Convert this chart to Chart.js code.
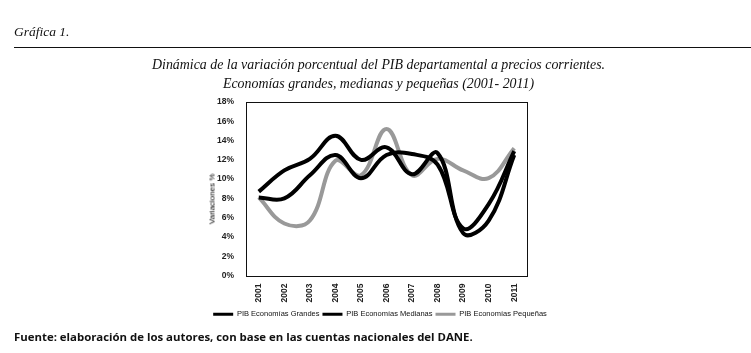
<!DOCTYPE html>
<html lang="es">
<head>
  <meta charset="UTF-8">
  <title>Gráfica 1</title>
  <style>
    body {
      margin: 0;
      background-color: white;
      width: 751px;
      height: 353px;
      overflow: hidden;
      position: relative;
      font-family: "Liberation Sans", Arial, sans-serif;
    }
    #chartBox {
      position: absolute;
      left: 0;
      top: 0;
      width: 751px;
      height: 353px;
    }
    .serif {
      position: absolute;
      font-family: "Liberation Serif", "Times New Roman", serif;
      font-style: italic;
      color: #111;
      white-space: nowrap;
    }
    #grafica { left: 14px; top: 24px; font-size: 13.5px; }
    #rule {
      position: absolute;
      left: 14px;
      top: 47px;
      width: 737px;
      height: 1px;
      background-color: #111;
    }
    #title1 { left: 0; width: 757px; text-align: center; top: 57px; font-size: 13.9px; }
    #title2 { left: 0; width: 757px; text-align: center; top: 76px; font-size: 13.9px; }
    #yTitle {
      position: absolute;
      left: 212px;
      top: 199px;
      transform: translate(-50%, -50%) rotate(-90deg);
      font-size: 8px;
      color: #000;
      white-space: nowrap;
    }
    #fuente {
      position: absolute;
      left: 14px;
      top: 329px;
      font-family: "Open Sans", sans-serif;
      font-weight: bold;
      font-size: 11.4px;
      color: #111;
      white-space: nowrap;
    }
  </style>
</head>
<body>
  <div id="chartBox"><canvas id="pibChart"></canvas></div>
  <div id="grafica" class="serif">Gráfica 1.</div>
  <div id="rule"></div>
  <div id="title1" class="serif">Dinámica de la variación porcentual del PIB departamental a precios corrientes.</div>
  <div id="title2" class="serif">Economías grandes, medianas y pequeñas (2001- 2011)</div>
  <div id="yTitle">Variaciones %</div>
  <div id="fuente">Fuente: elaboración de los autores, con base en las cuentas nacionales del DANE.</div>

  <script src="https://cdn.jsdelivr.net/npm/chart.js"></script>
  <script>
    // datos
    const years = ['2001', '2002', '2003', '2004', '2005', '2006', '2007', '2008', '2009', '2010', '2011'];
    const grandes = [8.7, 10.9, 12.1, 14.5, 12.0, 13.3, 10.5, 12.7, 4.4, 5.7, 12.5];
    const medianas = [8.1, 8.0, 10.4, 12.5, 10.1, 12.5, 12.6, 11.5, 4.9, 7.4, 12.9];
    const pequenas = [8.1, 5.4, 5.7, 11.9, 10.4, 15.2, 10.4, 12.1, 10.9, 10.1, 13.2];
    const yTicks = [0, 2, 4, 6, 8, 10, 12, 14, 16, 18];

    // marco alrededor del area de la grafica
    const framePlugin = {
      id: 'frame',
      afterDatasetsDraw(chart) {
        const a = chart.chartArea;
        const ctx = chart.ctx;
        ctx.save();
        ctx.strokeStyle = '#111';
        ctx.lineWidth = 1;
        ctx.strokeRect(Math.round(a.left) + 0.5, Math.round(a.top) + 0.5, Math.round(a.right - a.left), Math.round(a.bottom - a.top));
        ctx.restore();
      }
    };

    const tickFont = { family: 'Liberation Sans', size: 8.5, weight: 'bold' };

    new Chart(document.getElementById('pibChart'), {
      type: 'line',
      data: {
        labels: years,
        datasets: [
          { label: 'PIB Economías Grandes', data: grandes, borderColor: '#000', backgroundColor: '#000' },
          { label: 'PIB Economías Medianas', data: medianas, borderColor: '#000', backgroundColor: '#000' },
          { label: 'PIB Economías Pequeñas', data: pequenas, borderColor: '#999', backgroundColor: '#999' }
        ]
      },
      options: {
        responsive: true,
        maintainAspectRatio: false,
        animation: false,
        elements: {
          line: { borderWidth: 4, tension: 0.4, fill: false },
          point: { radius: 0, hoverRadius: 0 }
        },
        layout: { padding: { left: 200, right: 191, top: 102, bottom: 25 } },
        scales: {
          x: {
            offset: true,
            grid: { display: false },
            border: { display: false },
            ticks: { minRotation: 90, maxRotation: 90, padding: 0, color: '#222', font: tickFont },
            afterFit: s => { s.height = 32; }
          },
          y: {
            min: 0,
            max: 18,
            afterBuildTicks: s => { s.ticks = yTicks.map(v => ({ value: v })); },
            grid: { display: false },
            border: { display: false },
            ticks: { padding: 4, color: '#222', font: tickFont, callback: v => v + '%' },
            afterFit: s => { s.width = 46; }
          },
          yDummy: {
            position: 'right',
            min: 0,
            max: 18,
            grid: { display: false },
            border: { display: false },
            ticks: { display: false },
            afterFit: s => { s.width = 33; }
          }
        },
        plugins: {
          legend: {
            position: 'bottom',
            labels: {
              boxWidth: 20,
              boxHeight: 3,
              padding: 3,
              color: '#111',
              font: { family: 'Liberation Sans', size: 7.5 },
              generateLabels: chart => Chart.defaults.plugins.legend.labels.generateLabels(chart).map(l => Object.assign(l, { lineWidth: 0 }))
            }
          },
          tooltip: { enabled: false }
        }
      },
      plugins: [framePlugin]
    });
  </script>
</body>
</html>
